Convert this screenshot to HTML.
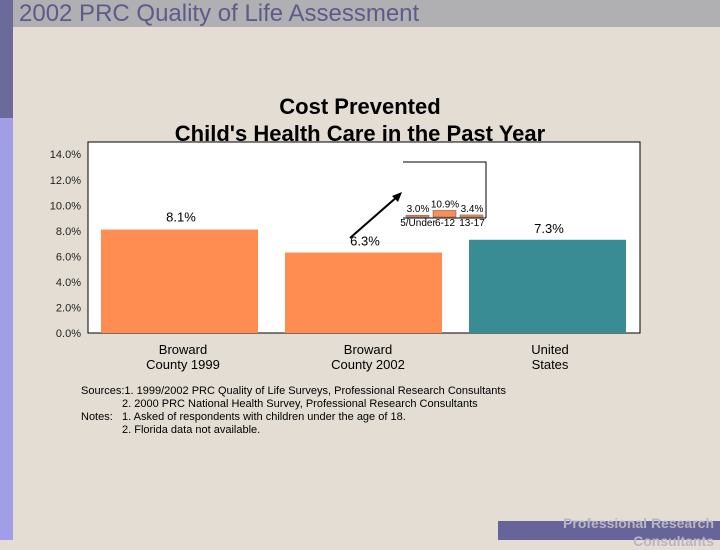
<!DOCTYPE html>
<html><head><meta charset="utf-8"><style>
body{margin:0;width:720px;height:540px;overflow:hidden;background:#e3ddd3;font-family:"Liberation Sans",sans-serif;position:relative}
.a{position:absolute}
</style></head><body>
<div class="a" style="left:0;top:0;width:13px;height:118px;background:#6c6a9a"></div>
<div class="a" style="left:0;top:118px;width:13px;height:422px;background:#a19de6"></div>
<div class="a" style="left:13px;top:0;width:707px;height:27px;background:#b0afb2"></div>
<div class="a" style="left:19px;top:0px;font-size:24px;color:#5e5b8a">2002 PRC Quality of Life Assessment</div>
<div class="a" style="left:498px;top:521px;width:222px;height:19px;background:#67649a"></div>
<div class="a" style="left:500px;top:514px;width:214px;text-align:right;font-size:14px;font-weight:bold;color:#b8b6c4;line-height:18px">Professional Research<br>Consultants</div>
<svg class="a" style="left:0;top:0" width="720" height="540" id="ch">
<text x="360" y="114" text-anchor="middle" font-size="22" font-weight="bold">Cost Prevented</text>
<text x="360" y="141" text-anchor="middle" font-size="22" font-weight="bold">Child's Health Care in the Past Year</text>
<rect x="88" y="142" width="552" height="191" fill="#fff" stroke="#000" stroke-width="1"/>
<g id="yt"></g><g id="bars"></g>
<g>
<polyline points="403,162 486,162 486,218" fill="none" stroke="#000" stroke-width="1"/>
<line x1="403" y1="218" x2="486" y2="218" stroke="#000"/>
<line x1="350" y1="238" x2="398" y2="196" stroke="#000" stroke-width="2"/>
<polygon points="402,192 392,196 398,202" fill="#000"/>
<g id="inset-bars"></g>
</g>
<g font-size="11" text-anchor="start" fill="#000">
<text x="81" y="394">Sources:1. 1999/2002 PRC Quality of Life Surveys, Professional Research Consultants</text>
<text x="122" y="407">2. 2000 PRC National Health Survey, Professional Research Consultants</text>
<text x="81" y="420">Notes:</text><text x="122" y="420">1. Asked of respondents with children under the age of 18.</text>
<text x="122" y="433">2. Florida data not available.</text>
</g>
</svg>
<script>
const categories=[["Broward","County 1999"],["Broward","County 2002"],["United","States"]];
const values=[8.1,6.3,7.3];
const colors=["#ff8c50","#ff8c50","#3a8c94"];
const ticks=[0,2,4,6,8,10,12,14];
const insetCats=["5/Under","6-12","13-17"];
const insetVals=[3.0,10.9,3.4];
const NS="http://www.w3.org/2000/svg";
const y=v=>333-v*12.77;
function mk(t,a,p){const e=document.createElementNS(NS,t);for(const k in a)e.setAttribute(k,a[k]);p.appendChild(e);return e;}
const yt=document.getElementById('yt');
ticks.forEach(t=>{const e=mk('text',{x:81,y:y(t)+4,'text-anchor':'end','font-size':11,fill:'#222'},yt);e.textContent=t.toFixed(1)+'%';

});
const bars=document.getElementById('bars');
values.forEach((v,i)=>{const cx=88+92+i*184;
const r=mk('rect',{x:cx-79,y:y(v),width:157,height:333-y(v),fill:colors[i]},bars);


const tx=[181,365,549][i];
const t=mk('text',{x:tx,y:y(v)-[8,7,7][i],'text-anchor':'middle','font-size':13},bars);t.textContent=v.toFixed(1)+'%';


categories[i].forEach((s,j)=>{const c=mk('text',{x:[183,368,550][i],y:354+j*15,'text-anchor':'middle','font-size':13},bars);c.textContent=s;

});
});
const ib=document.getElementById('inset-bars');
insetVals.forEach((v,i)=>{const x=406+i*27;const h=v*0.6;
const r=mk('rect',{x:x,y:217-h,width:23,height:h,fill:'#ff8c50',stroke:'#555','stroke-width':0.5},ib);


const t=mk('text',{x:x+12,y:217-h-3,'text-anchor':'middle','font-size':10},ib);t.textContent=v.toFixed(1)+'%';


const c=mk('text',{x:x+12,y:226,'text-anchor':'middle','font-size':10},ib);c.textContent=insetCats[i];

});
</script>
</body></html>
